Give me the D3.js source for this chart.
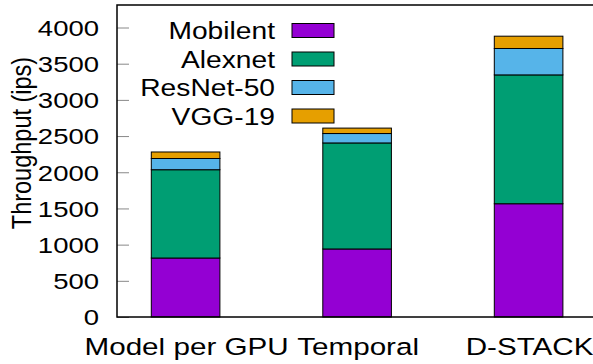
<!DOCTYPE html>
<html><head><meta charset="utf-8">
<script src="https://cdn.jsdelivr.net/npm/d3@7/dist/d3.min.js"></script>
<style>body{margin:0;background:#fff}svg{display:block;font-family:"Liberation Sans",Arial,sans-serif}</style>
</head><body>
<svg id="c" width="593" height="364"></svg>
<script>
const categories = ["Model per GPU", "Temporal", "D-STACK"];
const seriesNames = ["Mobilent", "Alexnet", "ResNet-50", "VGG-19"];
const mobilent = [815, 940, 1565];
const alexnet = [1220, 1465, 1780];
const resnet50 = [155, 130, 365];
const vgg19 = [90, 75, 170];
const yTicks = [0, 500, 1000, 1500, 2000, 2500, 3000, 3500, 4000];
const colors = ["#9400D3", "#009E73", "#56B4E9", "#E69F00"];

(function () {
const svg = d3.select("#c");
const pl = 117, pr = 597.2, pt = 5, pb = 317;
const sx = 1.21; // horizontal stretch of glyphs
const x = d3.scaleLinear().domain([-0.4, 2.4]).range([pl, pr]);
const y = d3.scaleLinear().domain([0, 4000]).range([pb, 27.5]);
const barW = x(0.4) - x(0);

const rows = categories.map((c, i) => ({cat: c, Mobilent: mobilent[i], Alexnet: alexnet[i], "ResNet-50": resnet50[i], "VGG-19": vgg19[i], i}));
const stack = d3.stack().keys(seriesNames)(rows);

// ticks
const yAxis = d3.axisLeft(y).tickValues(yTicks).tickFormat(d3.format("d")).tickSize(-12).tickPadding(17);
const ga = svg.append("g").attr("transform", `translate(${pl},0)`).call(yAxis);
ga.select(".domain").remove();
ga.selectAll(".tick line").attr("stroke", "#888").attr("stroke-width", 1);
ga.selectAll(".tick text").attr("font-size", 22).attr("fill", "#000")
  .attr("font-family", "Liberation Sans, Arial, sans-serif").attr("dy", "0.36em")
  .attr("x", 0).attr("transform", `translate(-18,0) scale(${sx + 0.04},1)`);

// bars
stack.forEach((s, k) => {
  svg.append("g").selectAll("rect").data(s).join("rect")
    .attr("x", (d, i) => x(i) - barW / 2)
    .attr("width", barW)
    .attr("y", d => y(d[1]))
    .attr("height", d => y(d[0]) - y(d[1]))
    .attr("fill", colors[k])
    .attr("stroke", "#000").attr("stroke-width", 1);
});

// frame
svg.append("rect").attr("x", pl).attr("y", pt).attr("width", pr - pl).attr("height", pb - pt)
  .attr("fill", "none").attr("stroke", "#000").attr("stroke-width", 1.5);

// x labels
svg.append("g").selectAll("text").data(categories).join("text")
  .attr("transform", (d, i) => `translate(${x(i) + 1},355) scale(${sx},1)`)
  .attr("text-anchor", "middle").attr("font-size", 24.5).text(d => d);

// y title
svg.append("text").attr("transform", `translate(30.5,143) scale(${sx},1) rotate(-90)`)
  .attr("text-anchor", "middle").attr("font-size", 23.5).text("Throughput (ips)");

// legend
const lg = svg.append("g");
seriesNames.forEach((n, k) => {
  const cy = 30.5 + k * 28.5;
  lg.append("text").attr("transform", `translate(275,${cy + 8.5}) scale(${sx},1)`)
    .attr("text-anchor", "end").attr("font-size", 23.3).text(n);
  lg.append("rect").attr("x", 292).attr("y", cy - 7).attr("width", 42).attr("height", 14)
    .attr("fill", colors[k]).attr("stroke", "#000").attr("stroke-width", 1);
});
})();
</script>
</body></html>
